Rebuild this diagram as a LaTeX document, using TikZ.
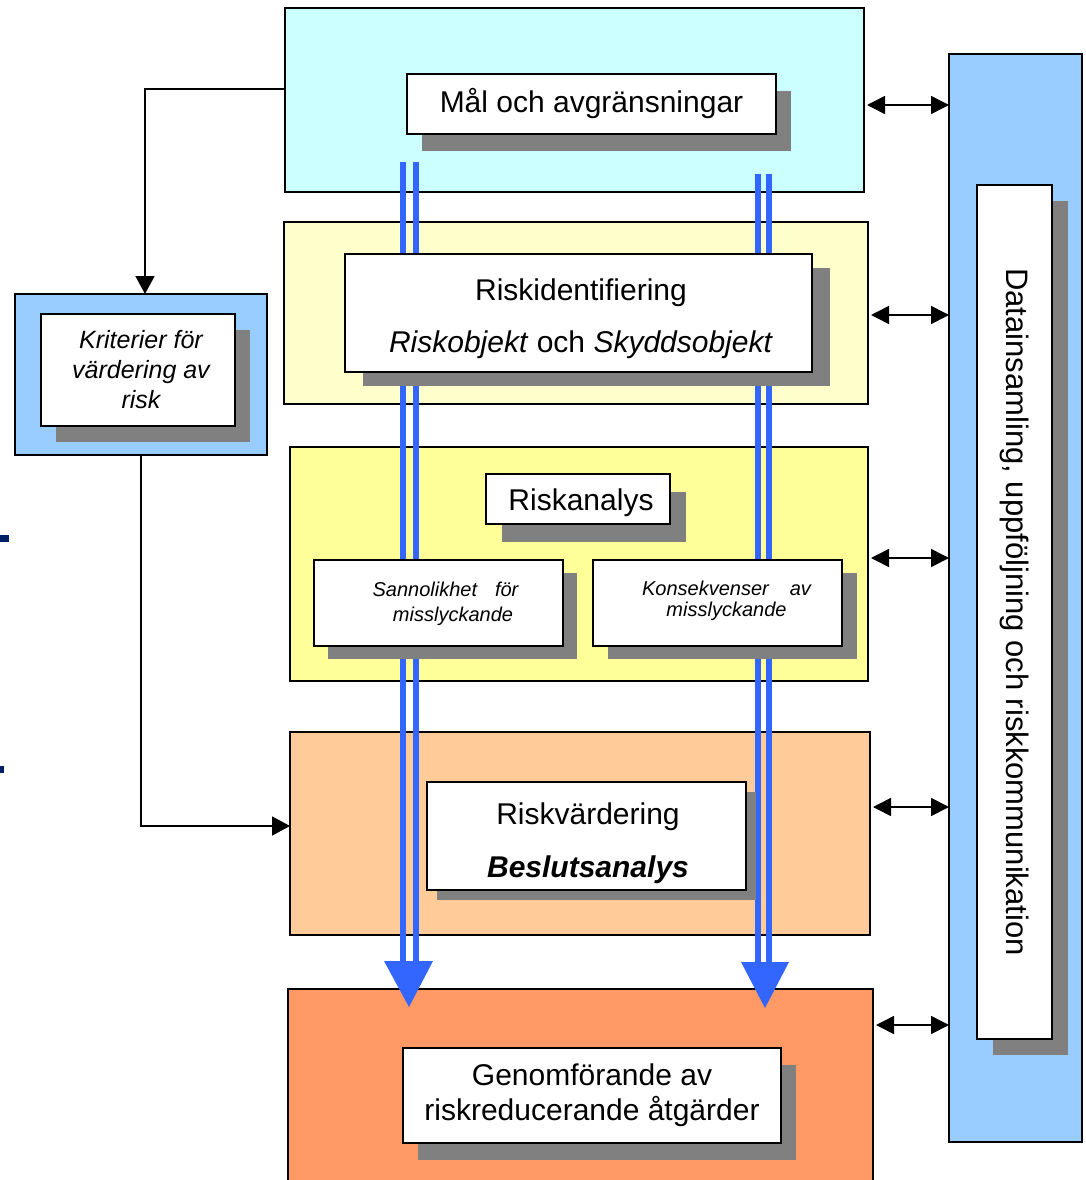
\documentclass[tikz,border=0pt]{standalone}
\usepackage{fontspec}
\setmainfont{Liberation Sans}
\usetikzlibrary{arrows.meta,shadows}
\definecolor{cyanbg}{HTML}{CCFFFF}
\definecolor{lyellow}{HTML}{FFFFCC}
\definecolor{yellowbg}{HTML}{FFFF99}
\definecolor{peachbg}{HTML}{FFCC99}
\definecolor{orangebg}{HTML}{FF9966}
\definecolor{bluebg}{HTML}{99CCFF}
\definecolor{shadowgray}{HTML}{808080}
\definecolor{flowblue}{HTML}{3366FF}
\definecolor{navy}{HTML}{002066}
\begin{document}
\begin{tikzpicture}[x=1pt,y=-1pt,
  bgbox/.style={draw=black,line width=1.6pt,inner sep=0pt,outer sep=0pt},
  wbox/.style={draw=black,line width=1.6pt,fill=white,inner sep=0pt,outer sep=0pt,align=center},
  shad/.style 2 args={drop shadow={shadow xshift=#1pt,shadow yshift=-#2pt,fill=shadowgray,opacity=1,draw=none}},
  big/.style={font=\fontsize{30}{36}\selectfont,align=center},
  mid/.style={font=\fontsize{25}{30}\selectfont\itshape,align=center},
  small/.style={font=\fontsize{20}{24}\selectfont\itshape,inner sep=0pt},
  blueline/.style={draw=flowblue,line width=6pt},
  conn/.style={draw=black,line width=1.6pt,-{Triangle[length=18pt,width=19pt]}},
  dbl/.style={draw=black,line width=1.6pt,{Triangle[length=18pt,width=18pt]}-{Triangle[length=18pt,width=18pt]},shorten <=3pt}
]
\useasboundingbox (0,0) rectangle (1085,1180);
% background panels
\node[bgbox,fill=cyanbg,minimum width=579pt,minimum height=184pt] (malbg) at (574.5,100) {};
\node[bgbox,fill=lyellow,minimum width=584pt,minimum height=182pt] (ridbg) at (576,313) {};
\node[bgbox,fill=yellowbg,minimum width=578pt,minimum height=234pt] (rabg) at (579,564) {};
\node[bgbox,fill=peachbg,minimum width=580pt,minimum height=203pt] (rvbg) at (580,833.5) {};
\node[bgbox,fill=orangebg,minimum width=585pt,minimum height=201pt] (gebg) at (580.5,1089.5) {};
\node[bgbox,fill=bluebg,minimum width=133pt,minimum height=1088pt] (databg) at (1015.5,598) {};
\node[bgbox,fill=bluebg,minimum width=252pt,minimum height=161pt] (kritbg) at (141,374.5) {};
% left marks
\fill[navy] (0,535) rectangle (9,542);
\fill[navy] (0,766) rectangle (4,773);
% blue flow lines
\coordinate (l1t) at (403,162); \coordinate (l1b) at (403,966);
\coordinate (l2t) at (416,162); \coordinate (l2b) at (416,966);
\coordinate (r1t) at (758,174); \coordinate (r1b) at (758,967);
\coordinate (r2t) at (769,174); \coordinate (r2b) at (769,967);
\draw[blueline] (l1t) -- (l1b);
\draw[blueline] (l2t) -- (l2b);
\draw[blueline] (r1t) -- (r1b);
\draw[blueline] (r2t) -- (r2b);
% white boxes
\node[wbox,big,shad={15}{17},minimum width=369pt,minimum height=60pt] (mal) at (591.5,104) {Mål och avgränsningar};
\node[wbox,shad={18}{14},minimum width=467pt,minimum height=118pt] (rid) at (578.5,313) {};
\node[wbox,shad={16}{18},minimum width=184pt,minimum height=50pt] (ra) at (578,499) {};
\node[wbox,shad={14}{13},minimum width=249pt,minimum height=86pt] (sann) at (438.5,603) {};
\node[wbox,shad={15}{13},minimum width=249pt,minimum height=86pt] (kons) at (717.5,603) {};
\node[wbox,shad={10}{10},minimum width=319pt,minimum height=108pt] (rv) at (586.5,836) {};
\node[wbox,shad={15}{17},minimum width=378pt,minimum height=95pt,font=\fontsize{30}{35}\selectfont] (ge) at (592,1095.5) {Genomförande av\\riskreducerande åtgärder};
\node[wbox,shad={16}{16},minimum width=75pt,minimum height=854pt] (data) at (1014.5,612) {};
\node[wbox,shad={15}{16},minimum width=194pt,minimum height=112pt] (krit) at (138,370) {};
% texts
\node[big] (ridtxt) at (581,319) {Riskidentifiering\\[16pt]\textit{Riskobjekt} och \textit{Skyddsobjekt}};
\node[big] (ratxt) at (581,503) {Riskanalys};
\node[big] (rvtxt) at (588,843) {Riskvärdering\\[17pt]\textbf{\textit{Beslutsanalys}}};
\node[mid] (krittxt) at (141,370) {Kriterier för\\värdering av\\risk};
\node[small] (sann1) at (445.5,589) {Sannolikhet\hspace{0.9em}för};
\node[small] (sann2) at (453,616) {misslyckande};
\node[small] (kons1) at (726.5,588) {Konsekvenser\hspace{1.05em}av};
\node[small] (kons2) at (726.5,611) {misslyckande};
\node[rotate=-90,font=\fontsize{31}{36}\selectfont] (datatxt) at (1015,612) {Datainsamling, uppföljning och riskkommunikation};
% blue arrowheads
\coordinate (la1) at (384,961); \coordinate (la2) at (433,961); \coordinate (lat) at (409,1007);
\coordinate (ra1) at (741,962); \coordinate (ra2) at (789,962); \coordinate (rat) at (765,1008);
\fill[flowblue] (la1) -- (la2) -- (lat) -- cycle;
\fill[flowblue] (ra1) -- (ra2) -- (rat) -- cycle;
% connectors
\coordinate (c1) at (145,89);
\draw[conn] (malbg.west |- c1) -| (kritbg.north -| c1);
\coordinate (c2) at (141,826);
\draw[conn] (kritbg.south) -- (c2) -- (rvbg.west |- c2);
% double arrows to data bar
\coordinate (d1) at (0,105);
\coordinate (d2) at (0,315);
\coordinate (d3) at (0,558);
\coordinate (d4) at (0,807);
\coordinate (d5) at (0,1025);
\draw[dbl] (malbg.east |- d1) -- (databg.west |- d1);
\draw[dbl] (ridbg.east |- d2) -- (databg.west |- d2);
\draw[dbl] (rabg.east |- d3) -- (databg.west |- d3);
\draw[dbl] (rvbg.east |- d4) -- (databg.west |- d4);
\draw[dbl] (gebg.east |- d5) -- (databg.west |- d5);
\end{tikzpicture}
\end{document}
